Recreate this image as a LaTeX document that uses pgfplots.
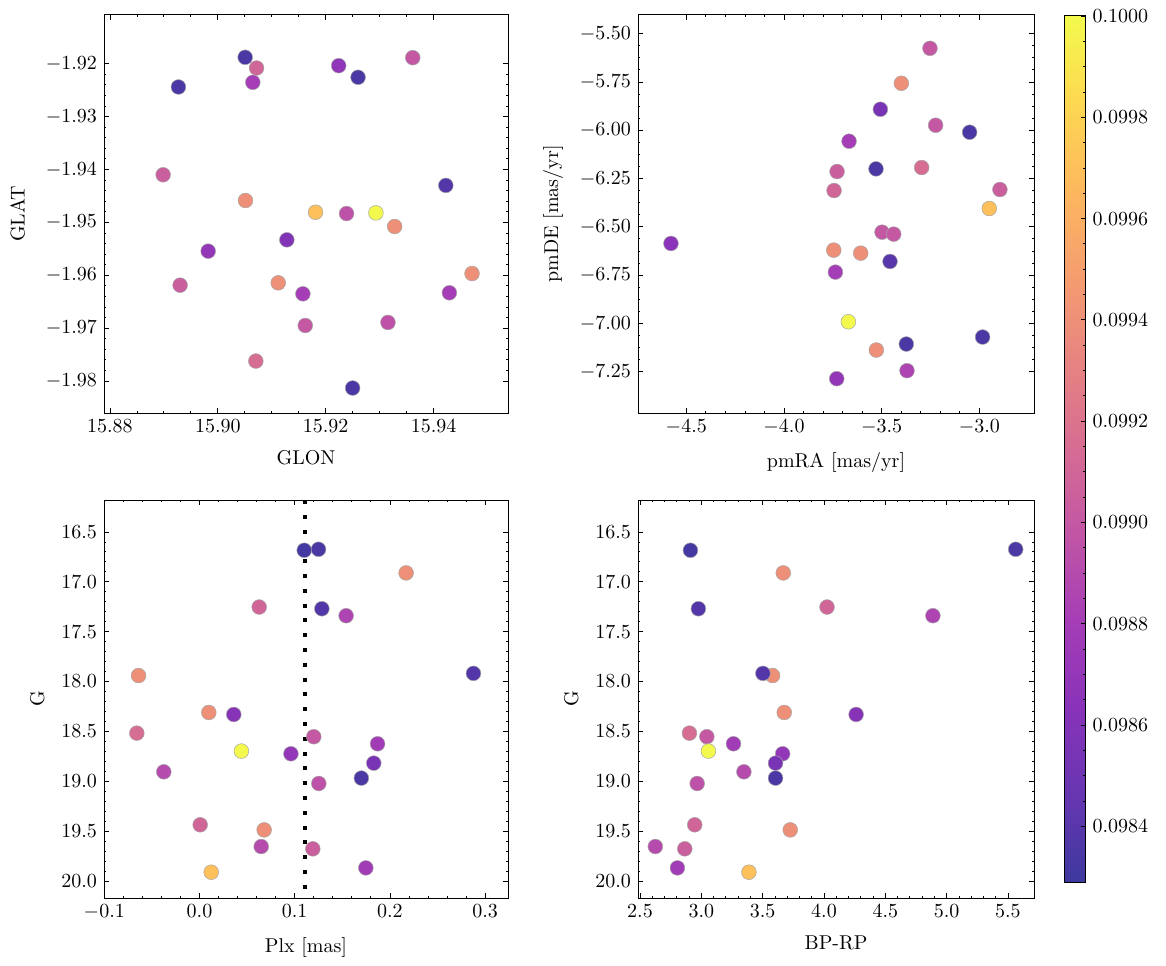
\documentclass[border=0pt]{standalone}
\usepackage{pgfplots}
\pgfplotsset{compat=1.18}
\usepackage{pgfplotstable}

\pgfplotsset{
  colormap={plasmaA}{rgb255=(61,57,159) rgb255=(103,54,177) rgb255=(136,51,185) rgb255=(165,61,182) rgb255=(193,85,166) rgb255=(214,108,147) rgb255=(231,131,129) rgb255=(245,157,111) rgb255=(253,184,94) rgb255=(253,216,81) rgb255=(243,250,77)},
  sciax/.style={scale only axis, tick align=inside, xtick pos=both, ytick pos=both,
    major tick length=2.4pt, minor tick length=1.2pt,
    every tick/.style={black, line width=0.4pt},
    axis line style={line width=0.5pt},
    point meta min=0.09829, point meta max=0.1, colormap name=plasmaA,
    scaled ticks=false, clip=true,
    xlabel shift=2pt, ylabel shift=1.5pt},
  stars/.style={scatter, only marks, mark=*, mark size=3.7pt, scatter src=explicit,
    scatter/use mapped color={draw=black!35, fill=mapped color},
    mark options={line width=0.25pt}},
  fx/.style={xticklabel style={/pgf/number format/.cd, fixed, fixed zerofill, precision=#1}},
  fy/.style={yticklabel style={/pgf/number format/.cd, fixed, fixed zerofill, precision=#1}},
}

\pgfplotstableread{
x y c
15.90507 -1.91880 0.09835
15.90718 -1.92082 0.09910
15.90649 -1.92353 0.09880
15.89270 -1.92441 0.09835
15.92241 -1.92038 0.09868
15.92600 -1.92258 0.09835
15.93614 -1.91887 0.09900
15.88986 -1.94101 0.09905
15.94227 -1.94302 0.09838
15.90513 -1.94588 0.09940
15.91812 -1.94809 0.09970
15.92387 -1.94834 0.09895
15.92931 -1.94821 0.10000
15.93278 -1.95079 0.09940
15.91280 -1.95331 0.09860
15.89821 -1.95545 0.09870
15.89301 -1.96188 0.09905
15.91120 -1.96144 0.09940
15.91577 -1.96352 0.09880
15.94713 -1.95968 0.09940
15.94293 -1.96332 0.09880
15.91621 -1.96950 0.09900
15.93154 -1.96893 0.09895
15.90705 -1.97623 0.09915
15.92499 -1.98133 0.09835
}\galactic

\pgfplotstableread{
x y c
-3.2529 -5.5759 0.09900
-3.3994 -5.7569 0.09940
-3.5068 -5.8914 0.09855
-3.2239 -5.9741 0.09900
-3.0500 -6.0103 0.09835
-3.6670 -6.0569 0.09880
-3.7284 -6.2138 0.09905
-3.5290 -6.2000 0.09835
-3.2955 -6.1931 0.09915
-3.7437 -6.3121 0.09910
-2.8949 -6.3069 0.09905
-2.9495 -6.4052 0.09970
-3.4983 -6.5276 0.09900
-3.4386 -6.5379 0.09900
-4.5784 -6.5862 0.09865
-3.7454 -6.6207 0.09940
-3.6074 -6.6362 0.09940
-3.4574 -6.6793 0.09840
-3.7369 -6.7345 0.09880
-3.6704 -6.9914 0.10000
-3.5273 -7.1379 0.09940
-3.3739 -7.1069 0.09835
-2.9836 -7.0707 0.09835
-3.3705 -7.2448 0.09885
-3.7301 -7.2862 0.09870
}\propermotion

\pgfplotstableread{
plx bprp G c
0.1100 2.911 16.684 0.09832
0.1250 5.563 16.674 0.09835
0.2170 3.668 16.911 0.09940
0.0627 4.025 17.253 0.09910
0.1285 2.976 17.270 0.09838
0.1540 4.888 17.340 0.09885
-0.0640 3.581 17.940 0.09940
0.2877 3.502 17.918 0.09838
0.0098 3.676 18.310 0.09940
0.0360 4.262 18.330 0.09862
-0.0658 2.903 18.517 0.09915
0.1200 3.045 18.553 0.09900
0.1870 3.262 18.624 0.09878
0.0440 3.058 18.697 0.10000
0.0960 3.663 18.724 0.09870
0.1830 3.605 18.818 0.09855
-0.0375 3.347 18.905 0.09890
0.1700 3.605 18.968 0.09835
0.1253 2.966 19.022 0.09895
0.0007 2.946 19.436 0.09910
0.0679 3.725 19.487 0.09940
0.0648 2.625 19.654 0.09890
0.1190 2.865 19.677 0.09905
0.0123 3.388 19.911 0.09970
0.1747 2.805 19.868 0.09878
}\photometry

\begin{document}
\fontsize{10}{12}\selectfont
\begin{tikzpicture}
\path (0,0) rectangle (583pt,482.5pt);

% top left
\begin{axis}[sciax, at={(52pt,276pt)}, anchor=south west, width=202pt, height=199pt,
  xmin=15.8789, xmax=15.9538, ymin=-1.98605, ymax=-1.9108,
  xtick={15.88,15.90,15.92,15.94}, fx=2, minor x tick num=3,
  ytick={-1.98,-1.97,-1.96,-1.95,-1.94,-1.93,-1.92}, fy=2, minor y tick num=4,
  xlabel={GLON}, ylabel={GLAT}, ylabel shift=3.5pt]
\addplot[stars] table[x=x, y=y, meta=c] {\galactic};
\end{axis}

% top right
\begin{axis}[sciax, at={(319pt,276pt)}, anchor=south west, width=198pt, height=199pt,
  xmin=-4.747, xmax=-2.7205, ymin=-7.4638, ymax=-5.4034,
  xtick={-4.5,-4,-3.5,-3}, fx=1, minor x tick num=4,
  ytick={-7.25,-7,-6.75,-6.5,-6.25,-6,-5.75,-5.5}, fy=2, minor y tick num=3,
  xlabel={pmRA [mas/yr]}, ylabel={pmDE [mas/yr]},
  colorbar shift/.style={xshift=15pt, yshift=-0.5pt},
  colorbar,
  colorbar style={
    scale only axis, width=10.5pt, height=433pt,
    ytick={0.0984,0.0986,0.0988,0.099,0.0992,0.0994,0.0996,0.0998,0.1},
    minor y tick num=3, tick align=inside, ytick pos=right, yticklabel pos=right,
    major tick length=2.4pt, minor tick length=1.2pt,
    every tick/.style={black, line width=0.4pt},
    axis line style={line width=0.5pt},
    scaled y ticks=false,
    yticklabel style={/pgf/number format/.cd, fixed, fixed zerofill, precision=4}}]
\addplot[stars] table[x=x, y=y, meta=c] {\propermotion};
\end{axis}

% bottom left
\begin{axis}[sciax, at={(52pt,33.5pt)}, anchor=south west, width=202pt, height=199pt,
  xmin=-0.1003, xmax=0.324, ymin=16.18, ymax=20.17, y dir=reverse,
  xtick={-0.1,0,0.1,0.2,0.3}, fx=1, minor x tick num=4,
  ytick={16.5,17,17.5,18,18.5,19,19.5,20}, fy=1, minor y tick num=4,
  xlabel={Plx [mas]}, ylabel={G}]
\addplot[stars] table[x=plx, y=G, meta=c] {\photometry};
\addplot[black, line width=2pt, dash pattern=on 2pt off 5.4pt, forget plot] coordinates {(0.111,16.18) (0.111,20.17)};
\end{axis}

% bottom right
\begin{axis}[sciax, at={(319pt,33.5pt)}, anchor=south west, width=198pt, height=199pt,
  xmin=2.4837, xmax=5.7124, ymin=16.18, ymax=20.17, y dir=reverse,
  xtick={2.5,3,3.5,4,4.5,5,5.5}, fx=1, minor x tick num=4,
  ytick={16.5,17,17.5,18,18.5,19,19.5,20}, fy=1, minor y tick num=4,
  xlabel={BP-RP}, ylabel={G}]
\addplot[stars] table[x=bprp, y=G, meta=c] {\photometry};
\end{axis}
\end{tikzpicture}
\end{document}
